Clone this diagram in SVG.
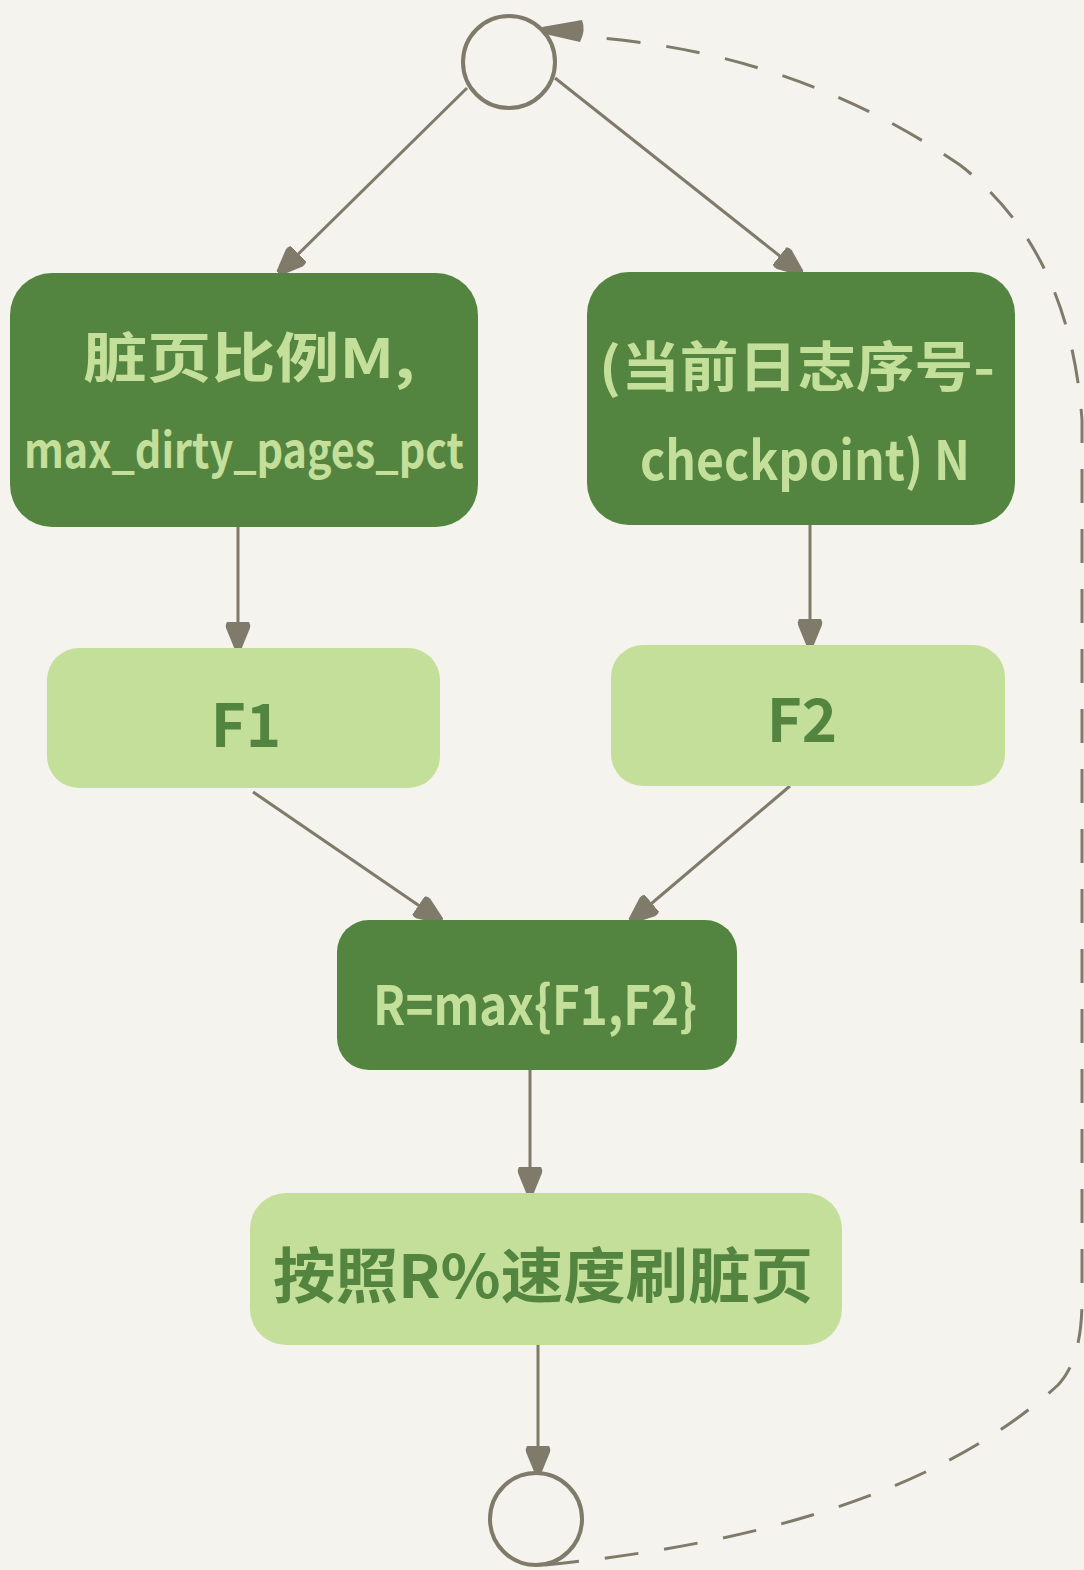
<svg xmlns="http://www.w3.org/2000/svg" width="1084" height="1570" viewBox="0 0 1084 1570">
<defs>
<style>
.bg{fill:#f4f3ee}
.dark{fill:#548540}
.light{fill:#c4df9a}
.tl{fill:#c4df9a;font-family:"Noto Sans CJK SC","Liberation Sans",sans-serif;font-weight:700}
.td{fill:#548540;font-family:"Noto Sans CJK SC","Liberation Sans",sans-serif;font-weight:700}
.edge{stroke:#7f7a6a;stroke-width:3;fill:none}
.circ{stroke:#7f7a6a;stroke-width:4;fill:#f4f3ee}
.dash{stroke:#7f7a6a;stroke-width:3;fill:none;stroke-dasharray:34 26}
</style>
<marker id="ah" viewBox="0 0 28 26" refX="26" refY="13" markerWidth="28" markerHeight="26" markerUnits="userSpaceOnUse" orient="auto">
<path d="M0 2 Q3 0 6 1 L28 10 L28 16 L6 25 Q3 26 0 24 Z" fill="#7f7a6a"/>
</marker>
</defs>
<rect class="bg" x="0" y="0" width="1084" height="1570"/>
<g id="connectors">
<line class="edge" x1="467" y1="88" x2="280" y2="272" marker-end="url(#ah)"/>
<line class="edge" x1="555" y1="78" x2="800" y2="272" marker-end="url(#ah)"/>
<line class="edge" x1="238" y1="527" x2="238" y2="648" marker-end="url(#ah)"/>
<line class="edge" x1="810" y1="525" x2="810" y2="645" marker-end="url(#ah)"/>
<line class="edge" x1="253" y1="792" x2="440" y2="920" marker-end="url(#ah)"/>
<line class="edge" x1="790" y1="786" x2="632" y2="920" marker-end="url(#ah)"/>
<line class="edge" x1="530" y1="1070" x2="530" y2="1193" marker-end="url(#ah)"/>
<line class="edge" x1="538" y1="1345" x2="538" y2="1472" marker-end="url(#ah)"/>
<path class="dash" d="M545 1565 Q900 1530 1058 1385 Q1082 1360 1082 1300 L1082 420 Q1070 250 960 165 Q800 55 600 38"/>
<path d="M582 20 Q586 30 580 42 L545 34 L542 27 Z" fill="#7f7a6a"/>
</g>
<g id="start">
<circle class="circ" cx="509" cy="62" r="46"/>
</g>
<g id="end">
<circle class="circ" cx="536" cy="1519" r="46"/>
</g>
<g id="dirty-ratio">
<rect class="dark" x="10" y="273" width="468" height="254" rx="42"/>
<text class="tl" x="249" y="378" font-size="54" text-anchor="middle" textLength="332" lengthAdjust="spacingAndGlyphs">脏页比例M,</text>
<text class="tl" x="244" y="468" font-size="48" text-anchor="middle" textLength="440" lengthAdjust="spacingAndGlyphs">max_dirty_pages_pct</text>
</g>
<g id="lsn-diff">
<rect class="dark" x="587" y="272" width="428" height="253" rx="42"/>
<text class="tl" x="797" y="387" font-size="54" text-anchor="middle" textLength="396" lengthAdjust="spacingAndGlyphs">(当前日志序号-</text>
<text class="tl" x="805" y="480" font-size="54" text-anchor="middle" textLength="330" lengthAdjust="spacingAndGlyphs">checkpoint) N</text>
</g>
<g id="f1">
<rect class="light" x="47" y="648" width="393" height="140" rx="32"/>
<text class="td" x="246" y="747" font-size="60" text-anchor="middle">F1</text>
</g>
<g id="f2">
<rect class="light" x="611" y="645" width="394" height="141" rx="32"/>
<text class="td" x="802" y="742" font-size="60" text-anchor="middle">F2</text>
</g>
<g id="r-max">
<rect class="dark" x="337" y="920" width="400" height="150" rx="32"/>
<text class="tl" x="535" y="1025" font-size="54" text-anchor="middle" textLength="324" lengthAdjust="spacingAndGlyphs">R=max{F1,F2}</text>
</g>
<g id="flush">
<rect class="light" x="250" y="1193" width="592" height="152" rx="36"/>
<text class="td" x="543" y="1298" font-size="60" text-anchor="middle" textLength="540" lengthAdjust="spacingAndGlyphs">按照R%速度刷脏页</text>
</g>
</svg>
